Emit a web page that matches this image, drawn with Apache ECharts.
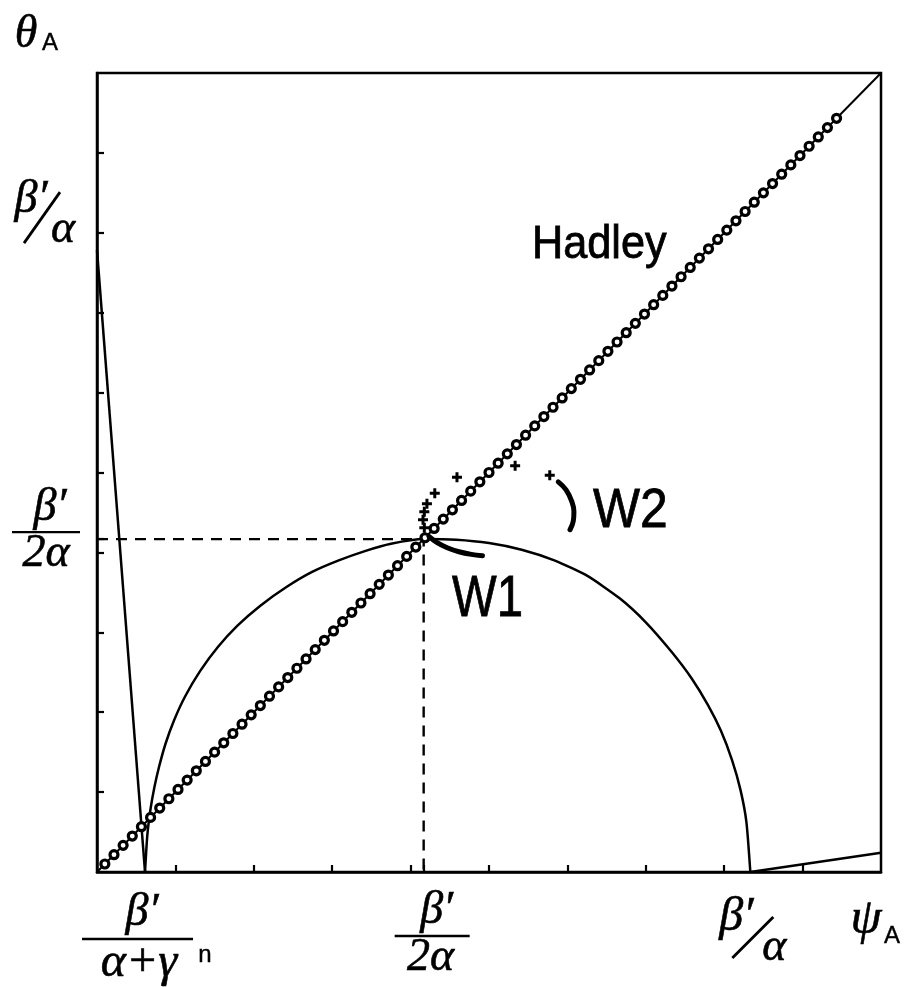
<!DOCTYPE html>
<html>
<head>
<meta charset="utf-8">
<script src="https://cdn.jsdelivr.net/npm/echarts@6/dist/echarts.min.js"></script>
<style>
  html, body { margin: 0; padding: 0; background: #fff; }
  #chart { width: 907px; height: 987px; }
</style>
</head>
<body>
<div id="chart"></div>
<script>
// Axis scale: psi_A and theta_A measured in units of beta'/alpha
const axisMin = 0;
const axisMax = 1.2;
const tickStep = 0.12;
const xTickValues = [0.12, 0.24, 0.36, 0.48, 0.5, 0.6, 0.72, 0.84, 0.96, 1.08];
const yTickValues = [0.12, 0.24, 0.36, 0.48, 0.5, 0.6, 0.72, 0.84, 0.96, 1.08];

// Positions of the symbolic tick labels
const psiCrit = 0.0735;   // beta' / (alpha + gamma^n)
const halfVal = 0.5;      // beta' / 2alpha
const fullVal = 1.0;      // beta' / alpha

// Steep branch from the theta axis down to psi = beta'/(alpha+gamma^n)
const legPsi = [0, 0.0735];
const legTheta = [0.934, 0];

// Dome-shaped equilibrium curve
const domePsi = [0.0735, 0.077, 0.082, 0.088, 0.095, 0.105, 0.118, 0.135, 0.158, 0.185, 0.215, 0.25, 0.29, 0.33, 0.37, 0.41, 0.45, 0.50,
                 0.55, 0.60, 0.65, 0.70, 0.75, 0.80, 0.84, 0.88, 0.91, 0.935, 0.955, 0.972, 0.985, 0.994, 1.0];
const domeTheta = [0, 0.055, 0.095, 0.128, 0.158, 0.193, 0.228, 0.264, 0.302, 0.338, 0.370, 0.400, 0.428, 0.451, 0.468, 0.482, 0.493, 0.500,
                   0.499, 0.494, 0.484, 0.468, 0.445, 0.411, 0.375, 0.330, 0.291, 0.251, 0.212, 0.168, 0.123, 0.075, 0];

// Weak branch beyond beta'/alpha
const tailPsi = [1.0, 1.2];
const tailTheta = [0, 0.029];

// Hadley line theta = psi
const hadleyLinePsi = [0, 1.2];
const hadleyLineTheta = [0, 1.2];
const hadleyPsi = [0.012, 0.026, 0.040, 0.054, 0.068, 0.082, 0.096, 0.110, 0.124, 0.138, 0.152, 0.166, 0.180, 0.194, 0.208, 0.222,
  0.236, 0.250, 0.264, 0.278, 0.292, 0.306, 0.320, 0.334, 0.348, 0.362, 0.376, 0.390, 0.404, 0.418, 0.432, 0.446, 0.460, 0.474,
  0.488, 0.502, 0.516, 0.530, 0.544, 0.558, 0.572, 0.586, 0.600, 0.614, 0.628, 0.642, 0.656, 0.670, 0.684, 0.698, 0.712, 0.726,
  0.740, 0.754, 0.768, 0.782, 0.796, 0.810, 0.824, 0.838, 0.852, 0.866, 0.880, 0.894, 0.908, 0.922, 0.936, 0.950, 0.964, 0.978,
  0.992, 1.006, 1.020, 1.034, 1.048, 1.062, 1.076, 1.090, 1.104, 1.118, 1.132];
const hadleyTheta = [0.012, 0.026, 0.040, 0.054, 0.068, 0.082, 0.096, 0.110, 0.124, 0.138, 0.152, 0.166, 0.180, 0.194, 0.208, 0.222,
  0.236, 0.250, 0.264, 0.278, 0.292, 0.306, 0.320, 0.334, 0.348, 0.362, 0.376, 0.390, 0.404, 0.418, 0.432, 0.446, 0.460, 0.474,
  0.488, 0.502, 0.516, 0.530, 0.544, 0.558, 0.572, 0.586, 0.600, 0.614, 0.628, 0.642, 0.656, 0.670, 0.684, 0.698, 0.712, 0.726,
  0.740, 0.754, 0.768, 0.782, 0.796, 0.810, 0.824, 0.838, 0.852, 0.866, 0.880, 0.894, 0.908, 0.922, 0.936, 0.950, 0.964, 0.978,
  0.992, 1.006, 1.020, 1.034, 1.048, 1.062, 1.076, 1.090, 1.104, 1.118, 1.132];

// Reference lines at beta'/2alpha
const guidePsi = [0, 0.5, 0.5];
const guideTheta = [0.5, 0.5, 0];

// Wave-regime trajectories
const w1Psi = [0.508, 0.520, 0.536, 0.554, 0.573, 0.590];
const w1Theta = [0.504, 0.495, 0.487, 0.481, 0.477, 0.475];
const w2Psi = [0.706, 0.718, 0.727, 0.730, 0.729, 0.724];
const w2Theta = [0.586, 0.574, 0.556, 0.541, 0.527, 0.514];
const crossPsi = [0.551, 0.517, 0.505, 0.640, 0.501, 0.499, 0.501, 0.693];
const crossTheta = [0.593, 0.569, 0.553, 0.610, 0.541, 0.529, 0.517, 0.596];

const zip = (a, b) => a.map((v, i) => [v, b[i]]);
const ink = '#000';

const chart = echarts.init(document.getElementById('chart'), null, { renderer: 'canvas' });

const axisCommon = {
  type: 'value',
  min: axisMin,
  max: axisMax,
  interval: tickStep,
  axisLine: { show: true, onZero: false, lineStyle: { color: ink, width: 2.5 } },
  axisLabel: { show: false },
  splitLine: { show: false }
};

chart.setOption({
  animation: false,
  backgroundColor: '#fff',
  grid: { left: 97, top: 73, width: 784, height: 799, show: true, borderColor: ink, borderWidth: 2.5, backgroundColor: 'transparent' },
  xAxis: Object.assign({}, axisCommon, {
    axisTick: { show: true, inside: true, length: 7, customValues: xTickValues, lineStyle: { color: ink, width: 2.2 } }
  }),
  yAxis: Object.assign({}, axisCommon, {
    axisTick: { show: true, inside: true, length: 7, customValues: yTickValues, lineStyle: { color: ink, width: 2.2 } }
  }),
  series: [
    { type: 'line', data: zip(guidePsi, guideTheta), symbol: 'none', lineStyle: { color: ink, width: 2.4, type: [11, 8] } },
    { type: 'line', data: zip(hadleyLinePsi, hadleyLineTheta), symbol: 'none', lineStyle: { color: ink, width: 2 } },
    { type: 'line', data: zip(legPsi, legTheta), symbol: 'none', lineStyle: { color: ink, width: 2.5 } },
    { type: 'line', data: zip(domePsi, domeTheta), symbol: 'none', smooth: 0.2, lineStyle: { color: ink, width: 2.5 } },
    { type: 'line', data: zip(tailPsi, tailTheta), symbol: 'none', lineStyle: { color: ink, width: 2.5 } },
    {
      type: 'scatter', data: zip(hadleyPsi, hadleyTheta), symbol: 'circle', symbolSize: 8, z: 3,
      itemStyle: { color: '#fff', borderColor: ink, borderWidth: 3.2, opacity: 1 }
    },
    { type: 'line', data: zip(w1Psi, w1Theta), symbol: 'none', smooth: 0.4, z: 4, lineStyle: { color: ink, width: 5, cap: 'round' } },
    { type: 'line', data: zip(w2Psi, w2Theta), symbol: 'none', smooth: 0.4, z: 4, lineStyle: { color: ink, width: 5, cap: 'round' } },
    {
      type: 'scatter', data: zip(crossPsi, crossTheta), z: 4,
      symbol: 'path://M3.5 0h3v3.5h3.5v3h-3.5v3.5h-3v-3.5h-3.5v-3h3.5z', symbolSize: 10,
      itemStyle: { color: ink, opacity: 1 }
    }
  ]
});

// Symbolic labels, anchored to the axis values they name
const px = v => chart.convertToPixel({ xAxisIndex: 0 }, v);
const py = v => chart.convertToPixel({ yAxisIndex: 0 }, v);
const serif = size => 'italic ' + size + 'px "Liberation Serif", "DejaVu Serif", serif';
const sans = size => size + 'px "Liberation Sans", Arial, sans-serif';

function txt(x, y, text, font, align, extra, weight) {
  const style = { x: 0, y: 0, text: text, font: font, fill: ink, textAlign: align || 'center', textVerticalAlign: 'middle' };
  if (weight) { style.stroke = ink; style.lineWidth = weight; }
  return Object.assign({ type: 'text', x: x, y: y, silent: true, style: style }, extra || {});
}
function bar(x1, x2, y) {
  return { type: 'line', silent: true, shape: { x1: x1, y1: y, x2: x2, y2: y }, style: { stroke: ink, lineWidth: 2.4 } };
}
function slash(x1, y1, x2, y2) {
  return { type: 'line', silent: true, shape: { x1: x1, y1: y1, x2: x2, y2: y2 }, style: { stroke: ink, lineWidth: 2.8 } };
}

const x0 = px(psiCrit), xh = px(halfVal), x1 = px(fullVal);
const yh = py(halfVal), y1 = py(fullVal);
const axisBottom = py(0);

const g = [];
// theta_A / psi_A axis names
g.push(txt(26, 35, 'θ', serif(46), 'center', null, 0.6));
g.push(txt(50, 43, 'A', sans(24), 'center', null, 0.4));
g.push(txt(866, 920, 'ψ', serif(50), 'center', null, 0.6));
g.push(txt(892, 936, 'A', sans(24), 'center', null, 0.4));

// y axis: beta'/alpha
g.push(txt(31, y1 - 6, 'β′', serif(46), 'center', null, 0.6));
g.push(slash(24, y1 + 37, 60, y1 - 14));
g.push(txt(63, y1 + 24, 'α', serif(46), 'center', null, 0.6));

// y axis: beta'/2alpha
g.push(txt(50, yh - 31, 'β′', serif(46), 'center', null, 0.6));
g.push(bar(12, 80, yh - 7));
g.push(txt(46, yh + 15, '2α', serif(46), 'center', null, 0.6));

// x axis: beta'/(alpha+gamma^n)
g.push(txt(x0 - 3, axisBottom + 41, 'β′', serif(46), 'center', null, 0.6));
g.push(bar(x0 - 63, x0 + 48, axisBottom + 67));
g.push(txt(x0 - 6, axisBottom + 91, 'α+γ', serif(48), 'center', null, 0.6));
g.push(txt(x0 + 60, axisBottom + 83, 'n', sans(24), 'center', null, 0.4));

// x axis: beta'/2alpha
g.push(txt(xh + 13, axisBottom + 39, 'β′', serif(46), 'center', null, 0.6));
g.push(bar(xh - 29, xh + 46, axisBottom + 64));
g.push(txt(xh + 7, axisBottom + 86, '2α', serif(46), 'center', null, 0.6));

// x axis: beta'/alpha
g.push(txt(x1 - 14, axisBottom + 45, 'β′', serif(48), 'center', null, 0.6));
g.push(slash(x1 - 18, axisBottom + 86, x1 + 23, axisBottom + 45));
g.push(txt(x1 + 24, axisBottom + 76, 'α', serif(46), 'center', null, 0.6));

// Curve names
g.push(txt(532, 245, 'Hadley', sans(46), 'left', { scaleX: 0.94 }, 0.8));
g.push(txt(452, 600, 'W1', sans(57), 'left', { scaleX: 0.83 }, 0.8));
g.push(txt(593, 512, 'W2', sans(56), 'left', { scaleX: 0.89 }, 0.8));

chart.setOption({ graphic: g });
</script>
</body>
</html>
